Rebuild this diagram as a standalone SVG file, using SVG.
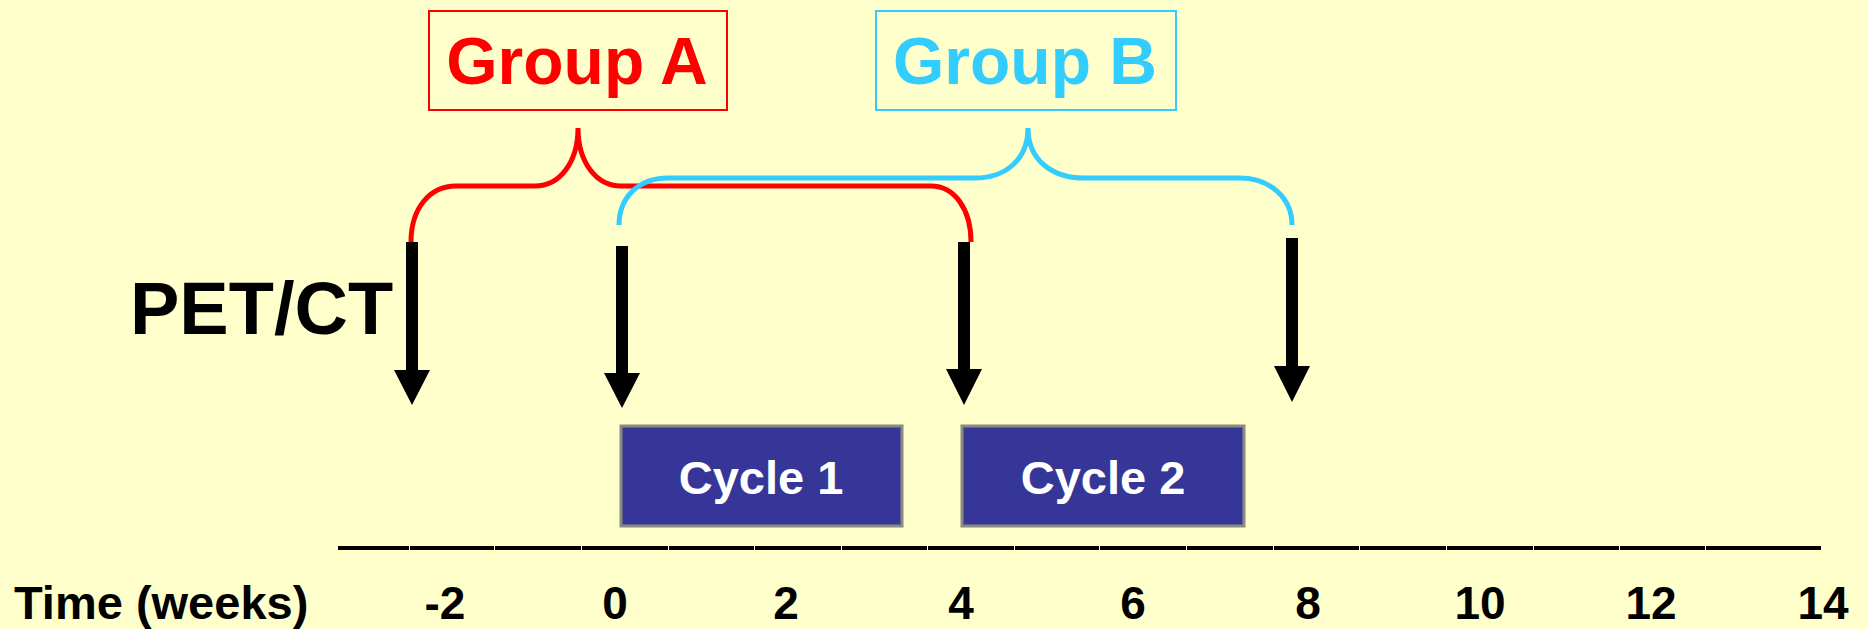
<svg xmlns="http://www.w3.org/2000/svg" width="1868" height="629" viewBox="0 0 1868 629">
<style>
.t{font-family:"Liberation Sans",Arial,sans-serif;font-weight:bold;}
.lbl{font-size:66px;text-anchor:middle;}
.tick{font-size:46px;fill:#000;text-anchor:middle;}
.cyc{font-size:47px;fill:#fff;text-anchor:middle;}
.brace{fill:none;stroke-width:5;stroke-linecap:butt;}
.arrow{fill:#000;}
.ax{stroke:#000;stroke-width:4;}
.cbox{fill:#363699;stroke:#8a8a80;stroke-width:3;}
</style>
<rect width="1868" height="629" fill="#FFFFCC"/>
<g id="groupA">
<rect x="429" y="11" width="298" height="99" fill="none" stroke="#FF0000" stroke-width="2"/>
<text class="t lbl" x="577" y="84" fill="#FF0000">Group A</text>
</g>
<g id="groupB">
<rect x="876" y="11" width="300" height="99" fill="none" stroke="#33CCFF" stroke-width="2"/>
<text class="t lbl" x="1025" y="84" fill="#33CCFF">Group B</text>
</g>
<g id="petct">
<text class="t" x="130" y="334" font-size="74" fill="#000">PET/CT</text>
</g>
<g id="cycle1">
<rect class="cbox" x="621" y="426" width="281" height="100"/>
<text class="t cyc" x="761" y="494">Cycle 1</text>
</g>
<g id="cycle2">
<rect class="cbox" x="962" y="426" width="282" height="100"/>
<text class="t cyc" x="1103" y="494">Cycle 2</text>
</g>
<g id="axis">
<line class="ax" x1="338" y1="548" x2="409" y2="548"/>
<line class="ax" x1="410" y1="548" x2="494" y2="548"/>
<line class="ax" x1="495" y1="548" x2="581" y2="548"/>
<line class="ax" x1="582" y1="548" x2="668" y2="548"/>
<line class="ax" x1="669" y1="548" x2="754" y2="548"/>
<line class="ax" x1="755" y1="548" x2="841" y2="548"/>
<line class="ax" x1="842" y1="548" x2="927" y2="548"/>
<line class="ax" x1="928" y1="548" x2="1014" y2="548"/>
<line class="ax" x1="1015" y1="548" x2="1099" y2="548"/>
<line class="ax" x1="1100" y1="548" x2="1186" y2="548"/>
<line class="ax" x1="1187" y1="548" x2="1273" y2="548"/>
<line class="ax" x1="1274" y1="548" x2="1359" y2="548"/>
<line class="ax" x1="1360" y1="548" x2="1446" y2="548"/>
<line class="ax" x1="1447" y1="548" x2="1533" y2="548"/>
<line class="ax" x1="1534" y1="548" x2="1619" y2="548"/>
<line class="ax" x1="1620" y1="548" x2="1705" y2="548"/>
<line class="ax" x1="1706" y1="548" x2="1821" y2="548"/>
</g>
<g id="labels">
<text class="t" x="14" y="619" font-size="47" fill="#000">Time (weeks)</text>
<text class="t tick" x="445" y="619">-2</text>
<text class="t tick" x="615" y="619">0</text>
<text class="t tick" x="786" y="619">2</text>
<text class="t tick" x="961" y="619">4</text>
<text class="t tick" x="1133" y="619">6</text>
<text class="t tick" x="1308" y="619">8</text>
<text class="t tick" x="1480" y="619">10</text>
<text class="t tick" x="1651" y="619">12</text>
<text class="t tick" x="1823" y="619">14</text>
</g>
<g id="connectors">
<path class="brace" stroke="#FF0000" d="M411,242 C411,208 430,186 456,186 L535,186 C560,186 578,162 578,128 C578,162 596,186 621,186 L931,186 C955,186 971,210 971,242"/>
<path class="brace" stroke="#33CCFF" d="M619,225 C619,198 638,178 668,178 L975,178 C1005,178 1028,160 1028,128 C1028,160 1052,178 1084,178 L1240,178 C1270,178 1292,198 1292,225"/>
<path class="arrow" d="M406,242 H418 V370 H430 L412,405 L394,370 H406 Z"/>
<path class="arrow" d="M616,246 H628 V373 H640 L622,408 L604,373 H616 Z"/>
<path class="arrow" d="M958,242 H970 V369 H982 L964,405 L946,369 H958 Z"/>
<path class="arrow" d="M1286,238 H1298 V366 H1310 L1292,402 L1274,366 H1286 Z"/>
</g>
</svg>
